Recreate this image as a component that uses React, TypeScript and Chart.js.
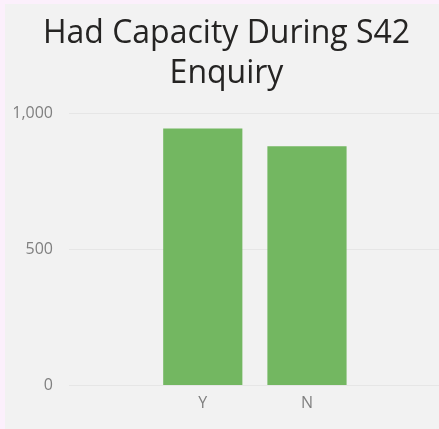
import React, { useEffect, useRef } from "react";
import { Chart, registerables } from "chart.js";

Chart.register(...registerables);

const titleLines = ["Had Capacity During S42", "Enquiry"];
const categories = ["Y", "N"];
const values = [943, 878];
const yTicks = [0, 500, 1000];

export default function App() {
  const ref = useRef<HTMLCanvasElement>(null);

  useEffect(() => {
    document.body.style.margin = "0";
    const canvas = ref.current!;
    const chart = new Chart(canvas, {
      type: "bar",
      data: {
        datasets: [
          {
            data: categories.map((c, i) => ({ x: i, y: values[i] })) as any,
            backgroundColor: "#73b761",
            borderWidth: 0,
            barPercentage: 0.76,
            categoryPercentage: 1,
          },
        ],
      },
      options: {
        animation: false,
        responsive: false,
        devicePixelRatio: 1,
        layout: { padding: { left: 9, right: 0, top: 0, bottom: 0 } },
        plugins: {
          legend: { display: false },
          tooltip: { enabled: false },
          title: {
            display: true,
            text: titleLines,
            color: "#252423",
            font: { family: "'Open Sans', sans-serif", size: 32, weight: "normal", lineHeight: 1.25 },
            padding: { top: 9.5, bottom: 19.5 },
          },
        },
        scales: {
          x: {
            type: "linear",
            offset: false,
            min: -1.284,
            max: 2.267,
            grid: { display: false, offset: false },
            border: { display: false },
            afterBuildTicks: (s: any) => {
              s.ticks = categories.map((_, i) => ({ value: i }));
            },
            afterFit: (s: any) => {
              s.height = 43.5;
            },
            ticks: {
              autoSkip: false,
              maxRotation: 0,
              color: "#808080",
              font: { family: "'Open Sans', sans-serif", size: 16 },
              padding: 0,
              callback: (v: any) => categories[v] ?? "",
            },
          },
          y: {
            min: 0,
            max: 1000,
            afterBuildTicks: (s: any) => {
              s.ticks = yTicks.map((v) => ({ value: v }));
            },
            afterFit: (s: any) => {
              s.width = 55;
            },
            grid: { color: "#e6e6e6", drawTicks: false, lineWidth: 1 },
            border: { display: false },
            ticks: {
              color: "#808080",
              font: { family: "'Open Sans', sans-serif", size: 16 },
              padding: 16,
            },
          },
        },
      },
    });
    return () => chart.destroy();
  }, []);

  return (
    <div style={{ position: "fixed", left: 0, top: 0, width: 439, height: 429, background: "#fcf0fc" }}>
      <canvas
        ref={ref}
        width={434}
        height={425}
        style={{ position: "absolute", left: 5, top: 4, width: 434, height: 425, background: "#f2f2f2" }}
      />
    </div>
  );
}
